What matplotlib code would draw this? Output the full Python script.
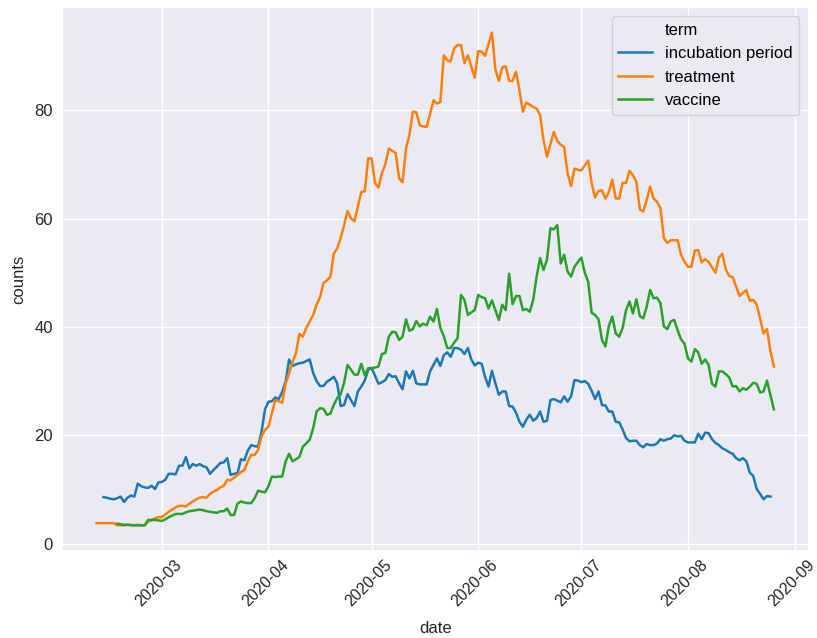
import numpy as np
import pandas as pd
import matplotlib
matplotlib.use("Agg")
import matplotlib.pyplot as plt
from matplotlib.lines import Line2D
from matplotlib.transforms import ScaledTranslation

# daily counts per term
incubation_start = "2020-02-13"
incubation = [
    8.6, 8.5, 8.3, 8.2, 8.4, 8.7, 7.7, 8.5, 8.9, 8.7,
    11.1, 10.6, 10.4, 10.3, 10.7, 10.1, 11.3, 11.4, 11.8, 12.9,
    12.9, 12.8, 14.4, 14.4, 16.0, 13.9, 14.7, 14.4, 14.7, 14.3,
    14.1, 12.9, 13.6, 14.2, 14.9, 15.0, 15.8, 12.7, 12.9, 13.0,
    15.6, 15.4, 17.2, 18.2, 18.0, 17.9, 20.7, 24.8, 26.2, 26.3,
    27.0, 26.7, 28.0, 29.9, 34.0, 32.8, 33.1, 33.3, 33.4, 33.7,
    34.0, 31.5, 30.0, 29.1, 29.1, 29.9, 30.3, 30.8, 29.6, 25.4,
    25.6, 27.6, 26.5, 25.4, 28.1, 29.0, 30.1, 32.1, 32.4, 31.0,
    29.5, 29.8, 30.2, 31.3, 30.8, 30.9, 29.6, 28.5, 31.8, 30.5,
    31.9, 29.6, 29.4, 29.4, 29.4, 31.8, 33.0, 34.2, 32.8, 34.8,
    35.3, 34.5, 36.1, 36.1, 35.8, 35.0, 36.1, 34.0, 32.9, 33.4,
    33.2, 30.8, 29.0, 31.9, 29.6, 27.5, 28.1, 28.1, 25.4, 25.3,
    24.2, 22.5, 21.6, 22.9, 23.8, 22.7, 23.2, 24.4, 22.5, 22.7,
    26.5, 26.7, 26.4, 26.1, 27.2, 26.2, 27.2, 30.2, 30.1, 29.8,
    30.0, 29.5, 28.2, 26.7, 28.1, 25.6, 25.5, 24.4, 24.4, 22.5,
    22.4, 21.1, 19.5, 18.9, 19.0, 19.0, 18.2, 17.8, 18.4, 18.2,
    18.2, 18.5, 19.3, 19.0, 19.3, 19.4, 20.0, 19.8, 19.9, 19.0,
    18.7, 18.7, 18.7, 20.3, 19.3, 20.5, 20.4, 19.3, 18.6, 18.2,
    17.6, 17.3, 16.9, 16.6, 15.8, 15.4, 15.8, 15.2, 13.1, 12.5,
    10.1, 9.2, 8.2, 8.8, 8.7,
]

treatment_start = "2020-02-11"
treatment = [
    3.8, 3.8, 3.8, 3.8, 3.8, 3.8, 3.4, 3.4, 3.4, 3.5,
    3.5, 3.4, 3.5, 3.4, 3.4, 4.1, 4.3, 4.7, 4.9, 4.9,
    5.4, 5.9, 6.3, 6.7, 7.0, 7.0, 6.9, 7.4, 7.8, 8.2,
    8.5, 8.6, 8.5, 9.2, 9.6, 9.9, 10.4, 10.7, 11.8, 11.7,
    12.2, 12.7, 13.2, 13.6, 15.2, 16.4, 16.4, 17.3, 19.8, 21.0,
    21.6, 24.1, 26.5, 26.3, 26.0, 29.5, 31.5, 33.5, 35.2, 38.7,
    38.2, 39.8, 41.0, 42.2, 44.1, 45.5, 48.1, 48.6, 49.2, 53.5,
    54.5, 56.4, 58.8, 61.4, 60.0, 59.5, 62.2, 64.9, 65.0, 71.1,
    71.1, 66.5, 65.7, 68.4, 70.0, 72.9, 72.5, 72.1, 67.4, 66.7,
    72.9, 75.4, 79.7, 79.6, 77.2, 77.0, 76.9, 79.3, 81.8, 81.2,
    81.5, 90.1, 89.2, 89.0, 91.4, 92.0, 92.0, 88.7, 90.1, 88.0,
    86.0, 90.9, 90.8, 90.0, 92.2, 94.3, 87.5, 85.4, 87.9, 88.1,
    85.4, 85.4, 87.1, 83.7, 79.7, 81.4, 81.0, 80.6, 80.3, 79.1,
    74.5, 71.4, 73.7, 76.0, 74.3, 73.6, 73.2, 68.3, 66.0, 69.2,
    69.0, 68.9, 69.8, 70.7, 66.5, 63.9, 65.1, 65.2, 63.7, 64.9,
    67.2, 63.7, 63.7, 66.6, 66.6, 68.8, 68.0, 66.8, 61.7, 61.3,
    63.4, 65.9, 63.7, 63.1, 61.9, 56.4, 55.5, 56.0, 56.0, 56.0,
    53.3, 52.0, 51.1, 51.1, 54.1, 54.2, 51.9, 52.5, 52.0, 51.0,
    50.0, 52.8, 53.5, 50.6, 49.4, 49.2, 47.5, 45.7, 46.3, 46.8,
    44.8, 45.0, 44.1, 41.5, 38.8, 39.6, 35.5, 32.7,
]

vaccine_start = "2020-02-17"
vaccine = [
    3.7, 3.6, 3.5, 3.5, 3.4, 3.4, 3.4, 3.4, 3.4, 4.4,
    4.4, 4.4, 4.3, 4.2, 4.5, 4.9, 5.2, 5.5, 5.5, 5.5,
    5.8, 6.0, 6.1, 6.2, 6.3, 6.2, 6.0, 5.9, 5.8, 5.7,
    6.0, 6.0, 6.5, 5.3, 5.3, 7.4, 7.8, 7.6, 7.5, 7.5,
    8.4, 9.8, 9.6, 9.5, 10.6, 12.4, 12.3, 12.4, 12.4, 15.2,
    16.6, 15.2, 15.6, 16.0, 17.9, 18.5, 19.2, 21.3, 24.4, 25.0,
    24.9, 23.8, 24.0, 25.6, 26.9, 27.6, 29.7, 33.0, 32.1, 31.2,
    31.2, 33.2, 31.1, 32.4, 32.4, 32.5, 32.7, 35.0, 35.2, 38.2,
    39.1, 39.0, 37.6, 38.2, 41.4, 39.3, 39.6, 41.1, 40.1, 40.6,
    40.3, 41.9, 41.0, 43.3, 39.8, 38.3, 36.1, 36.1, 37.1, 37.9,
    45.9, 45.0, 42.2, 42.7, 43.1, 45.9, 45.5, 45.3, 43.4, 44.9,
    43.1, 41.3, 44.1, 43.1, 49.8, 44.2, 45.7, 45.7, 43.1, 43.3,
    42.8, 45.0, 49.3, 52.7, 50.5, 52.4, 58.2, 58.0, 58.8, 51.7,
    53.3, 50.2, 49.3, 51.1, 52.0, 52.8, 50.0, 48.3, 42.6, 42.2,
    41.4, 37.6, 36.4, 40.2, 41.9, 38.8, 38.2, 39.8, 43.1, 44.7,
    42.5, 45.1, 42.0, 41.6, 43.7, 46.8, 45.3, 45.4, 44.4, 40.1,
    39.6, 41.0, 41.3, 39.4, 37.7, 36.9, 34.2, 33.6, 35.9, 35.3,
    33.2, 34.0, 33.0, 29.5, 29.0, 31.8, 31.8, 31.3, 30.7, 29.0,
    29.1, 28.1, 28.7, 28.4, 29.0, 29.7, 29.5, 27.9, 28.1, 30.1,
    27.4, 24.8,
]

terms = ["incubation period", "treatment", "vaccine"]
colors = ["#1f77b4", "#ff7f0e", "#2ca02c"]

series = {
    "incubation period": pd.Series(incubation, index=pd.date_range(incubation_start, periods=len(incubation), freq="D")),
    "treatment": pd.Series(treatment, index=pd.date_range(treatment_start, periods=len(treatment), freq="D")),
    "vaccine": pd.Series(vaccine, index=pd.date_range(vaccine_start, periods=len(vaccine), freq="D")),
}

plt.rcParams["font.family"] = ["Liberation Sans", "DejaVu Sans"]
plt.rcParams["axes.facecolor"] = "#EAEAF2"
plt.rcParams["axes.edgecolor"] = "white"
plt.rcParams["grid.color"] = "white"

fig = plt.figure(figsize=(8.17, 6.38), dpi=100)
ax = fig.add_axes([0.0767, 0.138, 0.912, 0.8495])

for term, c in zip(terms, colors):
    s = series[term]
    ax.plot(s.index, s.values, color=c, linewidth=1.8, label=term)

ax.grid(True, color="white", linewidth=1.0)
ax.set_axisbelow(True)
for sp in ax.spines.values():
    sp.set_visible(False)
ax.tick_params(axis="both", length=0, labelsize=12, pad=7, colors="#262626")
ax.tick_params(axis="x", labelsize=11.5, pad=5)
ax.set_yticks([0, 20, 40, 60, 80])
ax.set_xlim(ax.get_xlim())
fig.canvas.draw()
shift = ScaledTranslation(-3 / 100, 0, fig.dpi_scale_trans)
for lab in ax.get_xticklabels():
    lab.set_rotation(45)
    lab.set_transform(lab.get_transform() + shift)
ax.set_xlabel("date", fontsize=12, color="#262626", labelpad=9)
ax.set_ylabel("counts", fontsize=12, color="#262626", labelpad=6)

# legend with the hue name as its first (handle-less) row
handles = [Line2D([], [], linestyle="none")]
labels = ["term"]
for term, c in zip(terms, colors):
    handles.append(Line2D([], [], color=c, linewidth=1.8))
    labels.append(term)
ax.legend(handles, labels, loc="upper right", fontsize=12, facecolor="#EAEAF2",
          edgecolor="0.8", handlelength=2.0)

fig.savefig("out.png", dpi=100)
